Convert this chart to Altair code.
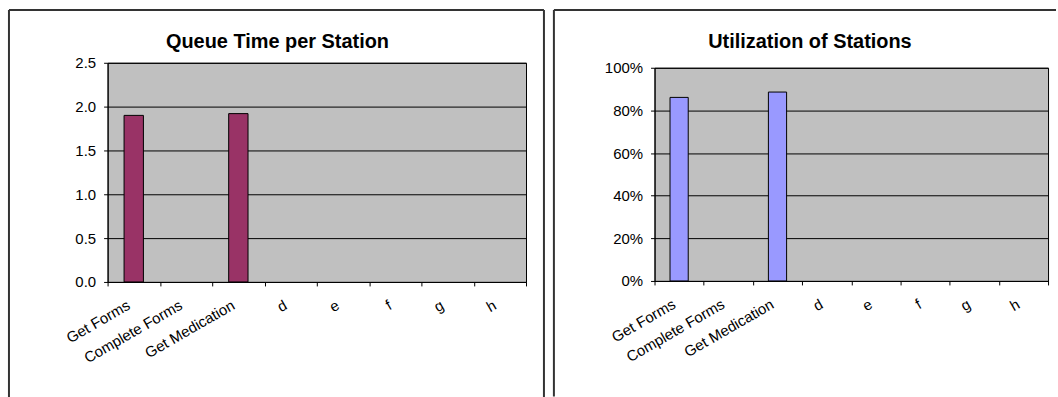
import altair as alt
import pandas as pd

# Station categories and the two measured series (blank stations carry no value)
stations = ["Get Forms", "Complete Forms", "Get Medication", "d", "e", "f", "g", "h"]
queue_time = [1.90, None, 1.92, None, None, None, None, None]
utilization = [0.861, None, 0.886, None, None, None, None, None]

queue_ticks = [0.0, 0.5, 1.0, 1.5, 2.0, 2.5]
util_ticks = [0.0, 0.2, 0.4, 0.6, 0.8, 1.0]

FONT = "Liberation Sans"
FRAME_COLOR = "#333333"


def panel(values, title, color, y_ticks, y_format, width, height,
          frame, title_pos, right_edge=True):
    df = pd.DataFrame({"station": stations, "value": values})
    label_df = pd.DataFrame({"title": [title]})

    x = alt.X(
        "station:N",
        sort=stations,
        scale=alt.Scale(domain=stations, paddingInner=0, paddingOuter=0),
        axis=alt.Axis(
            title=None,
            tickBand="extent",
            tickSize=4,
            tickColor="black",
            domainColor="black",
            labelAngle=-30,
            labelAlign="right",
            labelBaseline="alphabetic",
            labelPadding=22,
            labelOffset=-3,
            labelFont=FONT,
            labelFontSize=15,
            labelColor="black",
            grid=False,
        ),
    )
    y = alt.Y(
        "value:Q",
        scale=alt.Scale(domain=[y_ticks[0], y_ticks[-1]], nice=False),
        axis=alt.Axis(
            title=None,
            values=y_ticks,
            format=y_format,
            grid=True,
            gridColor="black",
            gridWidth=1,
            tickSize=4,
            tickColor="black",
            domainColor="black",
            labelPadding=8,
            labelFont=FONT,
            labelFontSize=15,
            labelColor="black",
        ),
    )

    bars = alt.Chart(df).mark_bar(
        color=color, stroke="black", strokeWidth=1,
        width=alt.RelativeBandSize(0.37),
    ).encode(x=x, y=y)

    # Outer chart frame (open at the bottom, where it runs off the page)
    left, right, top, bottom = frame
    rule = dict(stroke=FRAME_COLOR, strokeWidth=2)
    layers = [
        bars,
        alt.Chart(label_df).mark_rule(**rule).encode(
            x=alt.value(left), x2=alt.value(right), y=alt.value(top), y2=alt.value(top)),
        alt.Chart(label_df).mark_rule(**rule).encode(
            x=alt.value(left), x2=alt.value(left), y=alt.value(top), y2=alt.value(bottom)),
    ]
    if right_edge:
        layers.append(alt.Chart(label_df).mark_rule(**rule).encode(
            x=alt.value(right), x2=alt.value(right), y=alt.value(top), y2=alt.value(bottom)))

    layers.append(alt.Chart(label_df).mark_text(
        font=FONT, fontSize=20, fontWeight="bold", color="black",
        align="center", baseline="alphabetic",
    ).encode(text="title:N", x=alt.value(title_pos[0]), y=alt.value(title_pos[1])))

    return alt.layer(*layers).properties(width=width, height=height)


# Left panel: plot area 420 x 220
left = panel(queue_time, "Queue Time per Station", "#993366",
             queue_ticks, ".1f", 420, 220, (-99, 438, -53, 340), (170.5, -15))

# Right panel: plot area 395 x 214, frame runs past the right edge
right = panel(utilization, "Utilization of Stations", "#9999FF",
              util_ticks, ".0%", 395, 214, (-101, 403, -58, 330), (156, -20),
              right_edge=False)

chart = alt.hconcat(left, right, spacing=6, center=True).properties(
    padding={"left": 7, "top": 7, "right": 0, "bottom": 0},
    background="white",
).configure_view(fill="#C0C0C0", stroke="black", strokeWidth=1)

chart.save("out.html", embed_options={"renderer": "svg", "actions": False})
